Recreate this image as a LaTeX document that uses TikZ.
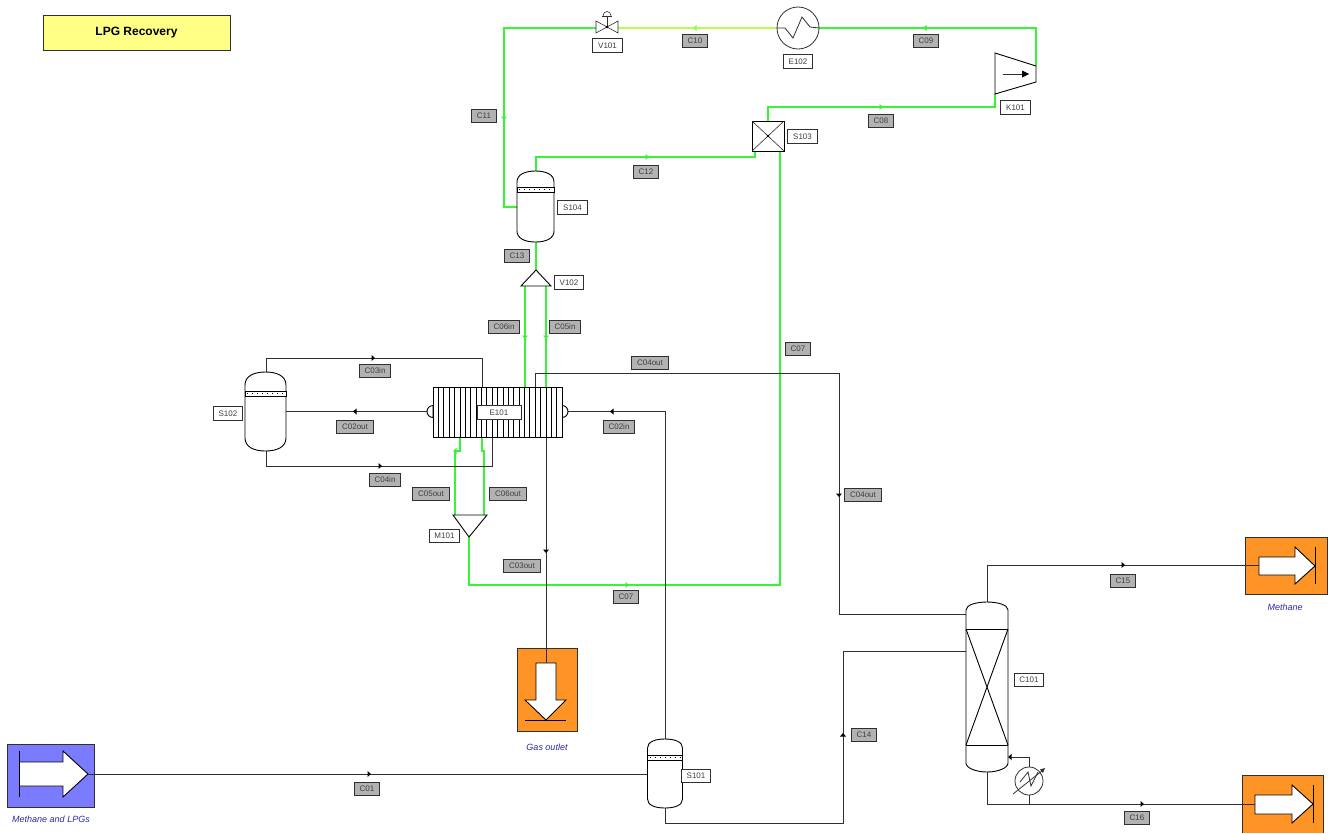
\documentclass[tikz,border=0pt]{standalone}
\usepackage{fontspec}
\setmainfont{Liberation Sans}
\definecolor{gl}{HTML}{35F535}
\definecolor{yl}{HTML}{B4FF50}
\definecolor{org}{HTML}{FF9426}
\definecolor{blu}{HTML}{7B7BFF}
\definecolor{ttl}{HTML}{FFFF85}
\definecolor{capc}{HTML}{2A2AA8}
\definecolor{lnk}{HTML}{303030}
\newcommand{\vesselshape}[7]{%
  \node[ghost,minimum width={2*(#3)},minimum height={(#5)-(#4)}] (#1) at ({#2},{((#4)+(#5))/2}) {};
  \draw[equip,fill=white] ({#2-#3},{#4+#6}) .. controls ({#2-#3},{#4+0.3*#6}) and ({#2-0.55*#3},{#4}) .. ({#2},{#4})
    .. controls ({#2+0.55*#3},{#4}) and ({#2+#3},{#4+0.3*#6}) .. ({#2+#3},{#4+#6})
    -- ({#2+#3},{#5-#6}) .. controls ({#2+#3},{#5-0.3*#6}) and ({#2+0.55*#3},{#5}) .. ({#2},{#5})
    .. controls ({#2-0.55*#3},{#5}) and ({#2-#3},{#5-0.3*#6}) .. ({#2-#3},{#5-#6}) -- cycle;
  \draw[equip,fill=white] ({#2-#3},{#7}) rectangle ({#2+#3},{#7+5});
  \draw[black,line width=.8,dash pattern=on 1pt off 4pt] ({#2-#3+2},{#7+2.5}) -- ({#2+#3-2},{#7+2.5});
}
\newcommand{\tipr}[3]{\fill[#1] ({#2-1.5},{#3-3}) -- ({#2+2},{#3}) -- ({#2-1.5},{#3+3}) -- cycle;}
\newcommand{\tipl}[3]{\fill[#1] ({#2+1.5},{#3-3}) -- ({#2-2},{#3}) -- ({#2+1.5},{#3+3}) -- cycle;}
\newcommand{\tipd}[3]{\fill[#1] ({#2-3},{#3-1.5}) -- ({#2},{#3+2}) -- ({#2+3},{#3-1.5}) -- cycle;}
\newcommand{\tipu}[3]{\fill[#1] ({#2-3},{#3+1.5}) -- ({#2},{#3-2}) -- ({#2+3},{#3+1.5}) -- cycle;}
\begin{document}
\begin{tikzpicture}[x=1pt,y=-1pt,
  ghost/.style={inner sep=0pt,outer sep=0pt,draw=none},
  equip/.style={draw=black,line width=.9pt,line join=miter},
  thinl/.style={draw=lnk,line width=.6pt},
  gline/.style={draw=gl,line width=1.15pt},
  yline/.style={draw=yl,line width=1.15pt},
  bline/.style={draw=lnk,line width=.9pt},
  lab/.style={draw=lnk,line width=1pt,fill=white,font=\fontsize{8}{9}\selectfont,text=black!75,inner xsep=5.3pt,inner ysep=0pt,minimum height=13.5pt},
  glab/.style={lab,fill=black!30},
  capt/.style={font=\fontsize{9}{10}\itshape\selectfont,text=capc},
  term/.style={draw=lnk,line width=.9pt},
  sarrow/.style={draw=black,line width=.9pt,fill=white}]
\useasboundingbox (0,0) rectangle (1328,833);
\fill[white] (0,0) rectangle (1328,833);

% title
\node[draw=lnk,line width=.7pt,fill=ttl,minimum width=187pt,minimum height=35pt,inner sep=0pt,font=\fontsize{12}{14}\bfseries\selectfont] (title) at (136.5,32.5) {\raisebox{-1.5pt}{LPG Recovery}};

% placed equipment anchors
\node[ghost,minimum width=87pt,minimum height=63pt] (feed) at (50.5,775.5) {};
\node[ghost,minimum width=60pt,minimum height=83pt] (gasout) at (547,689.5) {};
\node[ghost,minimum width=82pt,minimum height=57pt] (meth) at (1286,565.5) {};
\node[ghost,minimum width=81pt,minimum height=58pt] (lpg) at (1282.5,804) {};
\node[ghost,minimum width=129pt,minimum height=50pt] (E101) at (497.5,412) {};
\node[ghost,minimum width=32pt,minimum height=30pt] (S103) at (768,136) {};
\node[ghost,circle,minimum size=42pt] (E102) at (798,28) {};
\node[ghost,circle,minimum size=28pt] (reb) at (1029,781) {};
\node[ghost,minimum width=22pt,minimum height=13pt] (V101) at (606.5,28) {};
\node[ghost,minimum width=41pt,minimum height=57pt] (K101) at (1015.5,80) {};
\node[ghost,minimum width=42pt,minimum height=170pt] (C101) at (987,687) {};
\coordinate (feedout) at (88,774);
\coordinate (K101in) at (995,94);
\coordinate (K101out) at (1036,66);
\coordinate (V102top) at (536,270);
\coordinate (V102l) at (525,286);
\coordinate (V102r) at (546,286);
\coordinate (M101l) at (455,515);
\coordinate (M101r) at (484,515);
\coordinate (M101o) at (469,537);
\coordinate (E101l) at (427,411.5);
\coordinate (E101r) at (568,411.5);
\coordinate (S103a) at (755,151);
\coordinate (S103b) at (780,151);
\coordinate (S103c) at (768,121);

% connectors -- green
\draw[gline] (S103c) |- (K101in |- 0,107) -- (K101in);
\draw[gline] (K101out) |- (E102.east);
\draw[yline] (E102.west) -- (V101.east);
\draw[gline] (V101.west) -- (504,28) -- (504,207) -- (517,207);
\draw[gline] (S103a) -- (755,157) -- (536,157) -- (536,171);
\draw[gline] (536,242) -- (V102top);
\draw[gline] (V102l) -- (V102l |- E101.north);
\draw[gline] (V102r) -- (V102r |- E101.north);
\draw[gline] (460,437) -- (460,451) -- (455,451) -- (M101l);
\draw[gline] (482,437) -- (482,451) -- (484,451) -- (M101r);
\draw[gline] (M101o) -- (469,585) -- (780,585) -- (S103b);

% connectors -- black
\draw[bline] (665,739) -- (665,411.5) -- (E101r);
\draw[bline] (665,808) -- (665,823) -- (843,823) -- (843,651) -- (966,651);
\draw[bline] (966,614) -- (839,614) -- (839,373) -- (535,373) -- (535,387);
\draw[bline] (266,372) -- (266,358) -- (482,358) -- (482,387);
\draw[bline] (E101l) -- (286,411.5);
\draw[bline] (266,451) -- (266,466) -- (492,466) -- (492,437);
\draw[bline] (546,437) -- (546,663);
\draw[bline] (987,602) -- (987,565) -- (1259,565);
\draw[bline] (987,772) -- (987,804) -- (1255,804);
\draw[bline] (1029,804) -- (reb.south);
\draw[bline] (reb.north) -- (1029,757) -- (1010,757);

% terminals
\fill[blu] (7,744) rectangle (94,807);
\draw[term] (7,744) rectangle (94,807);
\draw[sarrow] (19,762) -- (63,762) -- (63,751) -- (88,774) -- (63,797) -- (63,786) -- (19,786);
\draw[black,line width=.9pt] (19,751) -- (19,797);
\draw[bline] (feedout) -- (647,774);
\node[capt,ghost] (feedcap) at (51,819) {Methane and LPGs};

\fill[org] (517,648) rectangle (577,731);
\draw[term] (517,648) rectangle (577,731);
\draw[sarrow] (536,663) -- (556,663) -- (556,700) -- (566,700) -- (546,720) -- (525,700) -- (536,700) -- cycle;
\draw[black,line width=.9pt] (525,720.5) -- (566,720.5);
\draw[bline] (546,648) -- (546,663);
\node[capt,ghost] (gascap) at (547,747) {Gas outlet};

\fill[org] (1245,537) rectangle (1327,594);
\draw[term] (1245,537) rectangle (1327,594);
\draw[sarrow] (1259,557) -- (1295,557) -- (1295,547) -- (1315,566) -- (1295,584) -- (1295,575) -- (1259,575) -- cycle;
\draw[black,line width=.9pt] (1315,547) -- (1315,584);
\draw[bline] (1245,565) -- (1259,565);
\node[capt,ghost] (methcap) at (1285,607) {Methane};

\fill[org] (1242,775) rectangle (1323,833);
\draw[term] (1242,833) -- (1242,775) -- (1323,775) -- (1323,833);
\draw[sarrow] (1255,795) -- (1292,795) -- (1292,785) -- (1313,804) -- (1292,823) -- (1292,814) -- (1255,814) -- cycle;
\draw[black,line width=.9pt] (1313,785) -- (1313,823);
\draw[bline] (1242,804) -- (1255,804);

% vessels
\vesselshape{S101}{665}{17.5}{739}{808}{9}{755}
\vesselshape{S102}{265.5}{20.5}{372}{451}{13}{391}
\vesselshape{S104}{535.5}{18.5}{171}{242}{11}{187}

% column
\draw[equip,fill=white] (966,610) .. controls (966,605) and (976,602) .. (987,602) .. controls (998,602) and (1008,605) .. (1008,610)
  -- (1008,763) .. controls (1008,768) and (998,772) .. (987,772) .. controls (976,772) and (966,768) .. (966,763) -- cycle;
\draw[equip] (966,629) -- (1008,629) (966,745) -- (1008,745);
\draw[equip] (966,629) -- (1008,745) (1008,629) -- (966,745);

% exchanger E101
\draw[equip,fill=white] (433,417.5) arc[start angle=90,end angle=270,radius=6] -- cycle;
\draw[equip,fill=white] (562,405.5) arc[start angle=-90,end angle=90,radius=6] -- cycle;
\draw[equip,fill=white] (433,387) rectangle (562,437);
\foreach \k in {1,...,23} { \draw[black,line width=.75pt] ({433+\k*5.375},387) -- ({433+\k*5.375},437); }

% S103
\draw[equip,fill=white] (752,121) rectangle (784,151);
\draw[thinl] (752,121) -- (784,151) (784,121) -- (752,151);
\fill[black] (768,136) circle (1.3);

% E102
\draw[thinl,line width=.8pt] (798,28) circle (21);
\draw[thinl,line width=.8pt] (777,28) -- (785,28) -- (793,38) -- (802,17) -- (810,27) -- (819,28);

% reboiler
\draw[thinl,line width=.8pt,fill=white] (1029,781) circle (14);
\draw[thinl,line width=.8pt] (1020,782) -- (1028,772) -- (1031,786) -- (1038,772);
\draw[thinl,line width=.8pt] (1013,794) -- (1043,770);
\fill[lnk] (1045,768) -- (1040,769.5) -- (1043,773) -- cycle;

% V101
\draw[thinl,fill=white] (596,21) -- (618,33) -- (618,21) -- (596,33) -- cycle;
\draw[thinl] (607,27) -- (607,16) (602,16) -- (612,16);
\draw[thinl,fill=white] (603,16) .. controls (603,10) and (611,10) .. (611,16);
\fill[black] (607,27) circle (1.3);

% K101
\draw[equip,fill=white] (995,53) -- (1036,66) -- (1036,82) -- (995,94) -- cycle;
\draw[thinl] (1003,74) -- (1024,74);
\fill[black] (1022,70.5) -- (1029,74) -- (1022,77.5) -- cycle;

% V102, M101
\draw[equip,fill=white] (V102top) -- (551,286) -- (521,286) -- cycle;
\draw[equip,fill=white] (453,515) -- (487,515) -- (M101o) -- cycle;

% flow direction tips
\tipr{gl}{881}{107}\tipl{gl}{925}{28}\tipl{yl!70!gl}{695}{28}\tipd{gl}{504}{118}\tipr{gl}{647}{157}
\tipd{gl}{525}{337}\tipd{gl}{546}{337}\tipr{gl}{627}{585}\tipl{gl}{455}{451}
\tipr{black}{369}{774}\tipl{black}{612}{411.5}\tipu{black}{843}{735}\tipd{black}{839}{495}
\tipr{black}{373}{358}\tipl{black}{355}{411.5}\tipr{black}{380}{466}\tipd{black}{546}{551}
\tipr{black}{1123}{565}\tipr{black}{1142}{804}\tipl{black}{1010}{757}

% labels
\node[lab,minimum width=44pt] (E101lab) at (499,412.5) {E101};
\node[lab] (lS101) at (696,776) {S101};
\node[lab] (lS102) at (228,413.5) {S102};
\node[lab] (lS103) at (802.5,136.5) {S103};
\node[lab] (lS104) at (572.5,207.5) {S104};
\node[lab] (lV101) at (607.5,45.5) {V101};
\node[lab] (lV102) at (569,282.5) {V102};
\node[lab] (lE102) at (798,61.5) {E102};
\node[lab] (lK101) at (1015.5,107.5) {K101};
\node[lab] (lM101) at (444.5,536) {M101};
\node[lab] (lC101) at (1029,680) {C101};

\node[glab] (tC01) at (367,789) {C01};
\node[glab] (tC02i) at (619,427) {C02in};
\node[glab] (tC02o) at (355,427) {C02out};
\node[glab] (tC03i) at (375,371) {C03in};
\node[glab] (tC03o) at (522,566) {C03out};
\node[glab] (tC04i) at (385,480) {C04in};
\node[glab] (tC04oa) at (650,363) {C04out};
\node[glab] (tC04ob) at (863,495) {C04out};
\node[glab] (tC05i) at (565,327) {C05in};
\node[glab] (tC05o) at (431,494) {C05out};
\node[glab] (tC06i) at (504,327) {C06in};
\node[glab] (tC06o) at (508,494) {C06out};
\node[glab] (tC07a) at (626,597) {C07};
\node[glab] (tC07b) at (798,349) {C07};
\node[glab] (tC08) at (881,121) {C08};
\node[glab] (tC09) at (926,41) {C09};
\node[glab] (tC10) at (695,41) {C10};
\node[glab] (tC11) at (484,116) {C11};
\node[glab] (tC12) at (646,172) {C12};
\node[glab] (tC13) at (517,256) {C13};
\node[glab] (tC14) at (864,735) {C14};
\node[glab] (tC15) at (1123,581) {C15};
\node[glab] (tC16) at (1137,818) {C16};
\end{tikzpicture}
\end{document}
